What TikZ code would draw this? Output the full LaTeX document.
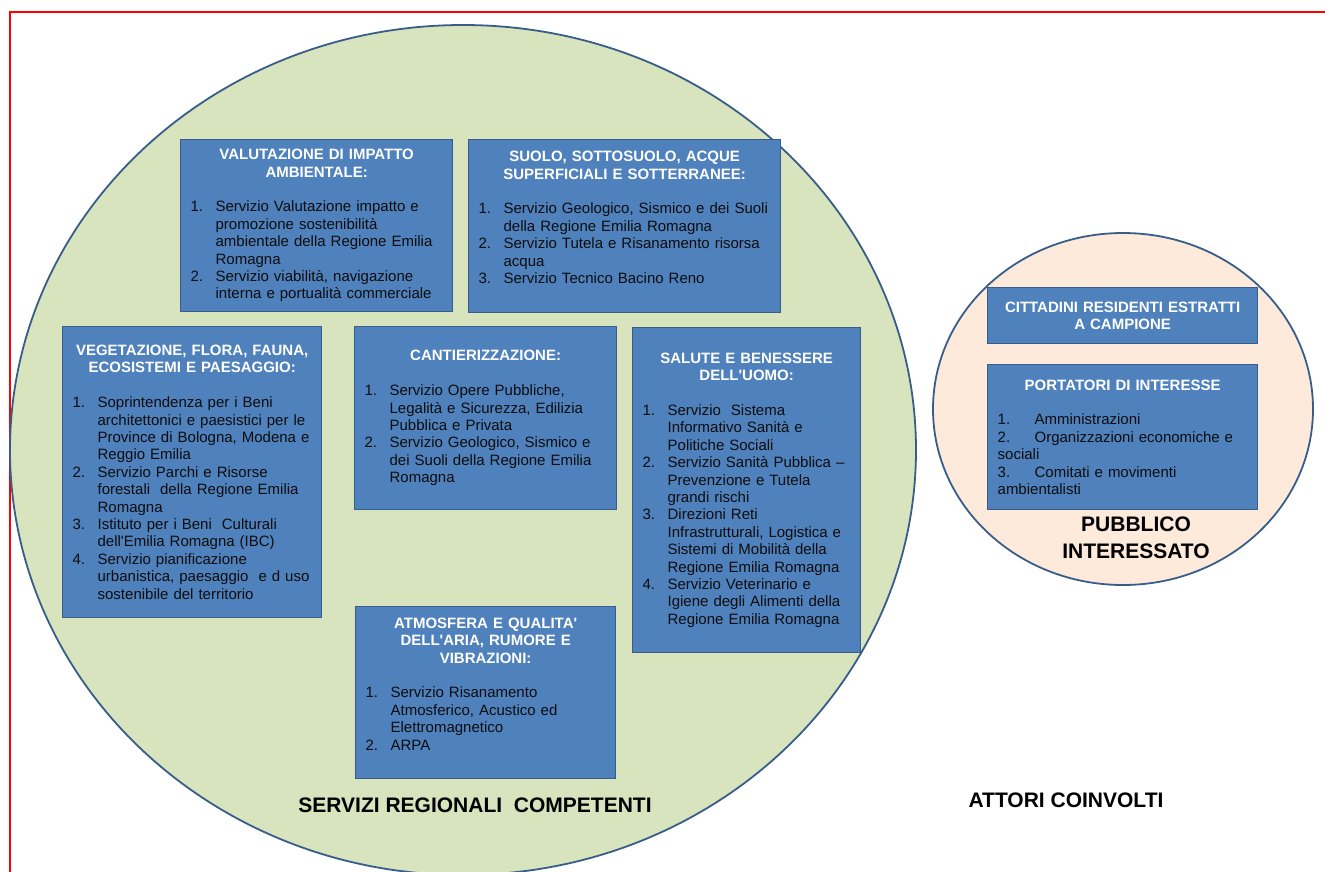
\documentclass[tikz,border=0pt]{standalone}
\usepackage{fontspec}
\setmainfont{Liberation Sans}
\definecolor{boxblu}{HTML}{4F81BD}
\definecolor{bordoblu}{HTML}{385D8A}
\definecolor{verdino}{HTML}{D7E4BD}
\definecolor{pesca}{HTML}{FDEADA}
\setlength{\parindent}{0pt}
\newcommand{\apo}{\textquotesingle}
\newcommand{\titolo}[1]{{\centering\bfseries\color{white}#1\par}}
\newcommand{\riga}[2]{\mbox{\makebox[25pt][l]{#1}#2}\par}
\newcommand{\rigab}[2]{\mbox{\makebox[37pt][l]{#1}#2}\par}
\begin{document}
\begin{tikzpicture}[x=1pt,y=-1pt,
		box/.style={draw=bordoblu,line width=1.3pt,fill=boxblu,anchor=north west,inner xsep=10pt,inner ysep=0pt,align=left,text=black!95,font=\fontsize{15}{17.4}\selectfont},
		etichetta/.style={align=center,font=\bfseries\fontsize{21}{27}\selectfont}]
		\useasboundingbox (0,0) rectangle (1325,871);
		\draw[red,line width=2pt] (10,900)--(10,12)--(1340,12);
		% gli insiemi
		\draw[bordoblu,line width=1.8pt,fill=verdino] (463,450) ellipse [x radius=453,y radius=425];
		\draw[bordoblu,line width=1.8pt,fill=pesca] (1123,409) ellipse [x radius=190,y radius=176];
		% servizi regionali
		\node[box,minimum width=272pt,minimum height=172pt,text width=252pt] (via) at (180,139) {\titolo{VALUTAZIONE DI IMPATTO\\AMBIENTALE:}\vspace{\baselineskip}
			\riga{1.}{Servizio Valutazione impatto e}\riga{}{promozione sostenibilità}\riga{}{ambientale della Regione Emilia}\riga{}{Romagna}
			\riga{2.}{Servizio viabilità, navigazione}\riga{}{interna e portualità commerciale}};
		\node[box,minimum width=312pt,minimum height=173pt,text width=292pt] (suolo) at (468,139) {\titolo{SUOLO, SOTTOSUOLO, ACQUE\\SUPERFICIALI E SOTTERRANEE:}\vspace{\baselineskip}
			\riga{1.}{Servizio Geologico, Sismico e dei Suoli}\riga{}{della Regione Emilia Romagna}
			\riga{2.}{Servizio Tutela e Risanamento risorsa}\riga{}{acqua}
			\riga{3.}{Servizio Tecnico Bacino Reno}\mbox{}};
		\node[box,minimum width=259pt,minimum height=291pt,text width=239pt] (veg) at (62,326) {\titolo{VEGETAZIONE, FLORA, FAUNA,\\ECOSISTEMI E PAESAGGIO:}\vspace{\baselineskip}
			\riga{1.}{Soprintendenza per i Beni}\riga{}{architettonici e paesistici per le}\riga{}{Province di Bologna, Modena e}\riga{}{Reggio Emilia}
			\riga{2.}{Servizio Parchi e Risorse}\riga{}{forestali\ \ della Regione Emilia}\riga{}{Romagna}
			\riga{3.}{Istituto per i Beni\ \ Culturali}\riga{}{dell\apo Emilia Romagna (IBC)}
			\riga{4.}{Servizio pianificazione}\riga{}{urbanistica, paesaggio\ \ e d uso}\riga{}{sostenibile del territorio}};
		\node[box,minimum width=262pt,minimum height=183pt,text width=242pt] (cant) at (354,326) {\titolo{CANTIERIZZAZIONE:}\vspace{\baselineskip}
			\riga{1.}{Servizio Opere Pubbliche,}\riga{}{Legalità e Sicurezza, Edilizia}\riga{}{Pubblica e Privata}
			\riga{2.}{Servizio Geologico, Sismico e}\riga{}{dei Suoli della Regione Emilia}\riga{}{Romagna}};
		\node[box,minimum width=228pt,minimum height=325pt,text width=208pt] (salute) at (632,327) {\titolo{SALUTE E BENESSERE\\DELL\apo UOMO:}\vspace{\baselineskip}
			\riga{1.}{Servizio\ \ Sistema}\riga{}{Informativo Sanità e}\riga{}{Politiche Sociali}
			\riga{2.}{Servizio Sanità Pubblica –}\riga{}{Prevenzione e Tutela}\riga{}{grandi rischi}
			\riga{3.}{Direzioni Reti}\riga{}{Infrastrutturali, Logistica e}\riga{}{Sistemi di Mobilità della}\riga{}{Regione Emilia Romagna}
			\riga{4.}{Servizio Veterinario e}\riga{}{Igiene degli Alimenti della}\riga{}{Regione Emilia Romagna}};
		\node[box,minimum width=260pt,minimum height=172pt,text width=240pt] (atm) at (355,606) {\titolo{ATMOSFERA E QUALITA\apo\\DELL\apo ARIA, RUMORE E\\VIBRAZIONI:}\vspace{\baselineskip}
			\riga{1.}{Servizio Risanamento}\riga{}{Atmosferico, Acustico ed}\riga{}{Elettromagnetico}
			\riga{2.}{ARPA}\mbox{}};
		% pubblico interessato
		\node[box,minimum width=270pt,minimum height=56pt,text width=250pt] (citt) at (987,287) {\titolo{CITTADINI RESIDENTI ESTRATTI\\A CAMPIONE}};
		\node[box,minimum width=270pt,minimum height=145pt,text width=250pt] (port) at (987,364) {\titolo{PORTATORI DI INTERESSE}\vspace{\baselineskip}
			\rigab{1.}{Amministrazioni}
			\rigab{2.}{Organizzazioni economiche e}\mbox{sociali}\par
			\rigab{3.}{Comitati e movimenti}\mbox{ambientalisti}};
		% etichette
		\node[etichetta] (servizi) at (475,805) {SERVIZI REGIONALI\ \ COMPETENTI};
		\node[etichetta] (attori) at (1066,800) {ATTORI COINVOLTI};
		\node[etichetta] (pubblico) at (1136,538) {PUBBLICO\\INTERESSATO};
	\end{tikzpicture}
\end{document}
